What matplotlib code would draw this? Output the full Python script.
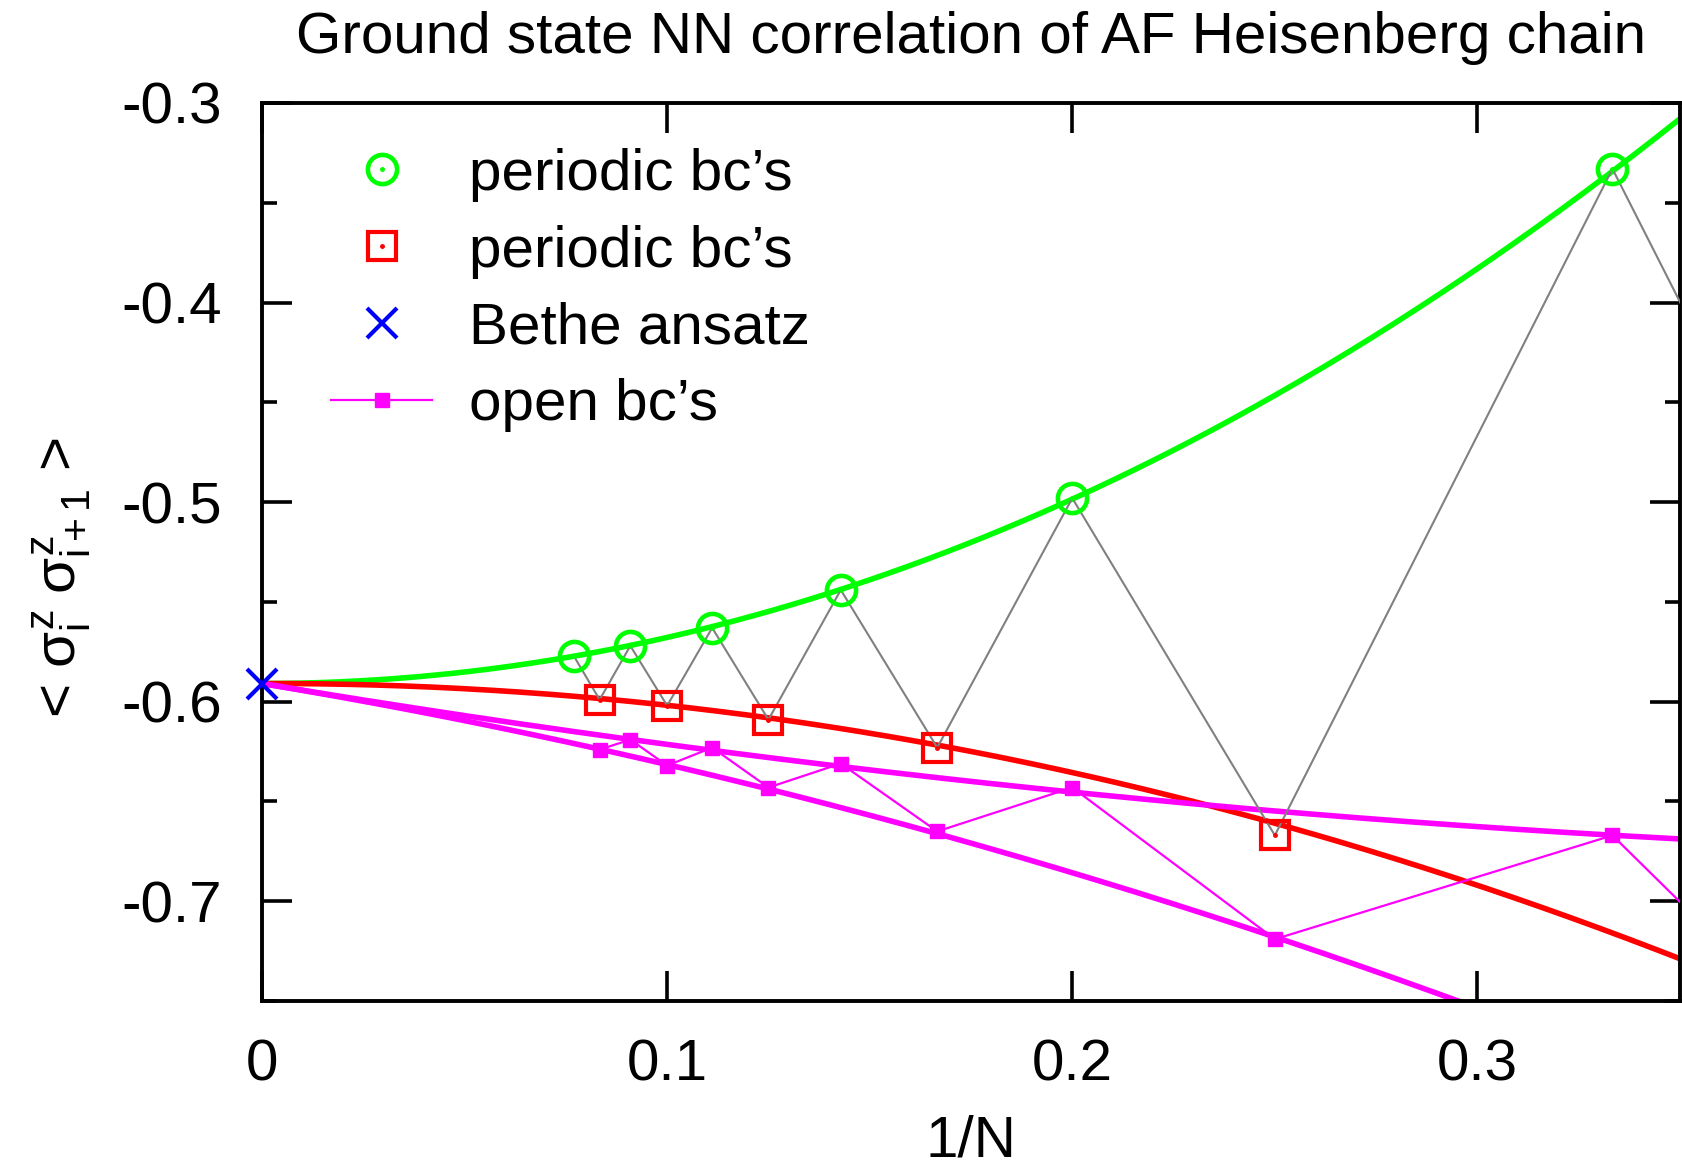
import numpy as np
import matplotlib.pyplot as plt
from matplotlib.legend_handler import HandlerTuple

plt.rcParams['font.family'] = ['Liberation Sans', 'DejaVu Sans']
plt.rcParams['mathtext.fontset'] = 'custom'
plt.rcParams['mathtext.rm'] = 'Liberation Sans'
plt.rcParams['mathtext.it'] = 'Liberation Sans'
plt.rcParams['axes.unicode_minus'] = False

# Data: nearest neighbour <sz sz> vs 1/N
N_per = np.array([2, 3, 4, 5, 6, 7, 8, 9, 10, 11, 12, 13])
corr_per = np.array([-1.0, -0.333, -0.667, -0.498, -0.623, -0.544,
                     -0.609, -0.563, -0.602, -0.572, -0.599, -0.577])

N_open = np.array([2, 3, 4, 5, 6, 7, 8, 9, 10, 11, 12])
corr_open = np.array([-1.0, -0.667, -0.719, -0.643, -0.665, -0.631,
                      -0.643, -0.623, -0.632, -0.619, -0.624])

bethe = -0.5909   # N -> infinity

# extrapolation curves  y = bethe + b*x + a*x^2, coefficients [a, b]
fit_per_odd = [2.31, 0.0]
fit_per_even = [-1.14, 0.005]
fit_open_odd = [0.33, -0.338]
fit_open_even = [-0.68, -0.338]

x_per = 1.0 / N_per
x_open = 1.0 / N_open
odd_p = (N_per % 2 == 1) & (N_per >= 3)
even_p = (N_per % 2 == 0) & (N_per >= 4)

xs = np.linspace(0, 0.35, 300)


def curve(coef):
    return np.polyval(list(coef) + [bethe], xs)


fig = plt.figure(figsize=(16.83, 11.70), dpi=100)
ax = fig.add_axes([0.1557, 0.1444, 0.8425, 0.7676])

# fits
ax.plot(xs, curve(fit_per_odd), color='#00ff00', lw=4.0, zorder=2)
ax.plot(xs, curve(fit_per_even), color='#ff0000', lw=4.0, zorder=2)
ax.plot(xs, curve(fit_open_odd), color='#ff00ff', lw=4.0, zorder=2)
ax.plot(xs, curve(fit_open_even), color='#ff00ff', lw=4.0, zorder=2)

# zigzag connecting all periodic data
ax.plot(x_per, corr_per, color='#808080', lw=1.5, zorder=3)

# markers
c1, = ax.plot(x_per[odd_p], corr_per[odd_p], ls='none', marker='o', ms=21,
              mfc='none', mec='#00ff00', mew=3.3, zorder=4)
c1d, = ax.plot(x_per[odd_p], corr_per[odd_p], ls='none', marker='o', ms=2.5,
               color='#00ff00', zorder=4)
s1, = ax.plot(x_per[even_p], corr_per[even_p], ls='none', marker='s', ms=20,
              mfc='none', mec='#ff0000', mew=3.0, zorder=4)
s1d, = ax.plot(x_per[even_p], corr_per[even_p], ls='none', marker='o', ms=2.5,
               color='#ff0000', zorder=4)
bx, = ax.plot([0], [bethe], ls='none', marker='x', ms=22, mew=3.0,
              color='#0000ff', zorder=5, clip_on=False)
op, = ax.plot(x_open, corr_open, color='#ff00ff', lw=1.6, marker='s', ms=10,
              zorder=4)

ax.legend([(c1, c1d), (s1, s1d), bx, op],
          ['periodic bc\u2019s', 'periodic bc\u2019s', 'Bethe ansatz', 'open bc\u2019s'],
          handler_map={tuple: HandlerTuple(ndivide=1)},
          loc='upper left', bbox_to_anchor=(0.0487, 0.950), frameon=False,
          fontsize=42, numpoints=1, handlelength=1.73, handletextpad=0.63,
          labelspacing=0.39, borderpad=0, borderaxespad=0)

ax.set_xlim(0, 0.35)
ax.set_ylim(-0.75, -0.3)
ax.set_xticks([0, 0.1, 0.2, 0.3])
ax.set_xticklabels(['0', '0.1', '0.2', '0.3'])
ax.set_yticks([-0.3, -0.4, -0.5, -0.6, -0.7])
ax.set_yticklabels(['-0.3', '-0.4', '-0.5', '-0.6', '-0.7'])
ax.set_yticks(np.arange(-0.75, -0.3, 0.1), minor=True)

ax.tick_params(which='both', direction='in', top=True, right=True, width=2.6)
ax.tick_params(which='major', length=21.5, labelsize=42)
ax.tick_params(axis='x', which='major', pad=27)
ax.tick_params(axis='y', which='major', pad=29)
ax.tick_params(which='minor', length=10.5)
for sp in ax.spines.values():
    sp.set_linewidth(2.8)

ax.set_title('Ground state NN correlation of AF Heisenberg chain', fontsize=42, pad=36)
ax.set_xlabel('1/N', fontsize=42, labelpad=16)
fig.text(0.0369, 0.506, r'< $\sigma_i^z\;\sigma_{i+1}^z$ >', rotation=90,
         ha='center', va='center', fontsize=42)

fig.savefig('out.png', dpi=100)
